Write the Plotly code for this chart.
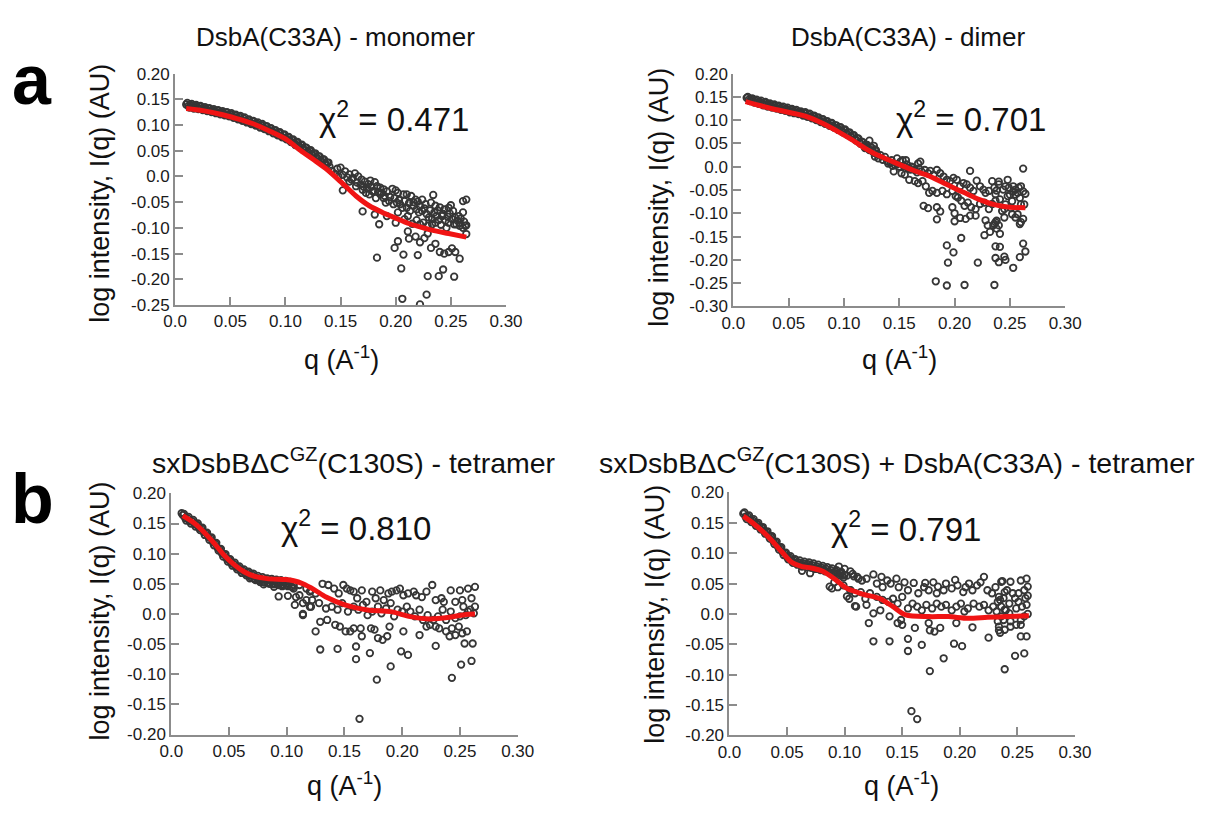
import plotly.graph_objects as go

# page body keeps its default 8px margin, so the figure is drawn 16px smaller than the window
PAGE_W, PAGE_H = 1219, 814
BODY = 8
W, H = PAGE_W - 2 * BODY, PAGE_H - 2 * BODY

# ---------------- DATA (q and log I in units of 1e-3) ----------------
# Panel a, left: DsbA(C33A) - monomer
mono_fit_q = [0.010, 0.025, 0.041, 0.055, 0.070, 0.085, 0.100, 0.114, 0.126, 0.138, 0.150, 0.164, 0.176,
              0.188, 0.200, 0.211, 0.222, 0.232, 0.248, 0.264]
mono_fit_I = [0.132, 0.128, 0.121, 0.113, 0.103, 0.089, 0.073, 0.050, 0.032, 0.013, -0.010, -0.038, -0.057,
              -0.070, -0.081, -0.091, -0.098, -0.104, -0.111, -0.118]
mono_band_q = [10, 12, 14, 16, 18, 20, 22, 24, 26, 28, 30, 32, 34, 36, 38, 40, 42, 44, 46, 48, 50, 52, 54, 56,
               58, 60, 62, 64, 66, 68, 70, 72, 74, 76, 78, 80, 82, 84, 86, 88, 90, 92, 94, 96, 98, 100, 102,
               104, 106, 108, 110, 112, 114, 116, 118, 120, 122, 124, 126, 128, 130, 132, 134, 136, 138, 140]
mono_band_I = [140, 137, 139, 135, 137, 134, 136, 132, 133, 130, 132, 128, 129, 126, 128, 124, 125, 121, 124,
               119, 121, 117, 119, 114, 116, 111, 113, 108, 110, 105, 107, 102, 103, 99, 100, 95, 97, 91, 93,
               88, 89, 83, 85, 79, 81, 75, 76, 70, 71, 65, 66, 60, 61, 55, 56, 49, 50, 44, 44, 38, 39, 32, 33,
               26, 27, 19]
mono_band2_q = [11, 13, 15, 17, 19, 21, 23, 25, 27, 29, 31, 33, 35, 37, 39, 41, 43, 45, 47, 49, 51, 53, 55, 57,
                59, 61, 63, 65, 67, 69, 71, 73, 75, 77, 79, 81, 83, 85, 87, 89, 91, 93, 95, 97, 99, 101, 103,
                105, 107, 109, 111, 113, 115, 117, 119, 121, 123, 125, 127, 129, 131, 133, 135, 137, 139]
mono_band2_I = [143, 134, 141, 132, 139, 131, 137, 129, 135, 127, 133, 125, 131, 123, 129, 121, 127, 119, 125,
                117, 123, 114, 120, 111, 118, 108, 115, 105, 111, 102, 108, 99, 105, 95, 102, 92, 98, 88, 94,
                84, 90, 80, 86, 76, 82, 72, 77, 67, 72, 61, 67, 56, 62, 51, 56, 46, 51, 40, 45, 34, 39, 28, 33,
                22, 27]
mono_sc_q = [142, 147, 150, 154, 158, 163, 161, 166, 169, 172, 175, 177, 181, 183, 186, 189, 192, 197, 200, 202,
             207, 210, 214, 218, 220, 224, 227, 232, 234, 236, 240, 244, 248, 250, 252, 257, 261, 264, 261, 263,
             264, 258, 255,
             158, 164, 170, 173, 176, 179, 182, 186, 189, 191, 194, 198, 201, 204, 206, 210, 213, 216, 219, 221,
             224, 228, 230, 233, 237, 239, 242, 245, 248, 251, 253, 258, 261,
             152, 170, 183, 185, 181, 192, 200, 202, 208, 211, 215, 219, 222, 225, 229, 233, 236, 241, 246,
             202, 199, 207, 211, 212, 218, 220, 222, 226, 229, 232, 236, 240, 243, 244, 248, 251, 254, 258, 239,
             229, 253, 205, 206, 228, 222,
             145, 148, 152, 156, 160, 165, 168, 171, 174, 178, 180, 184, 187, 190, 195, 199, 203, 208, 212, 216,
             222, 226, 231, 235, 238, 243, 247, 249, 254, 256, 259, 262, 264]
mono_sc_I = [11, 15, 17, 10, 4, 6, -3, 0, -6, -10, -15, -8, -11, -19, -22, -25, -29, -24, -27, -32,
             -35, -35, -38, -45, -49, -45, -54, -51, -36, -57, -60, -64, -61, -56, -67, -77, -48, -45, -70, -96,
             -112, -90, -93,
             -10, -19, -26, -32, -35, -29, -42, -35, -42, -51, -48, -54, -51, -54, -61, -61, -67, -57, -64, -70,
             -67, -73, -80, -83, -77, -85, -77, -86, -90, -83, -93, -96, -100,
             -27, -68, -158, -93, -74, -77, -90, -70, -83, -77, -92, -85, -93, -90, -96, -93, -90, -94, -100,
             -126, -139, -152, -107, -121, -117, -153, -128, -120, -111, -139, -131, -147, -181, -150, -147, -140,
             -147, -160, -194, -194, -195, -179, -238, -230, -249,
             5, 0, 3, -2, -6, -12, -16, -20, -23, -20, -28, -30, -32, -38, -40, -42, -46, -48, -52, -50,
             -58, -62, -66, -70, -66, -73, -78, -72, -80, -86, -82, -88, -95]

# Panel a, right: DsbA(C33A) - dimer
dim_fit_q = [0.011, 0.036, 0.065, 0.080, 0.095, 0.107, 0.118, 0.126, 0.138, 0.150, 0.162, 0.175, 0.187,
             0.199, 0.211, 0.222, 0.237, 0.250, 0.264]
dim_fit_I = [0.140, 0.124, 0.1086, 0.094, 0.075, 0.058, 0.041, 0.030, 0.017, 0.005, -0.007, -0.018, -0.031,
             -0.045, -0.058, -0.070, -0.082, -0.087, -0.088]
dim_band_q = [12, 14, 16, 18, 20, 22, 24, 26, 28, 30, 32, 34, 36, 38, 40, 42, 44, 46, 48, 50, 52, 54, 56, 58,
              60, 62, 64, 66, 68, 70, 72, 74, 76, 78, 80, 82, 84, 86, 88, 90, 92, 94, 96, 98, 100, 102, 104,
              106, 108, 110, 112, 114, 116, 118, 120, 122, 124, 126, 128, 130]
dim_band_I = [148, 144, 145, 141, 142, 138, 139, 135, 137, 133, 134, 130, 132, 128, 129, 125, 127, 123, 124,
              121, 122, 118, 120, 116, 117, 113, 115, 110, 112, 107, 109, 104, 105, 99, 101, 96, 97, 91, 93,
              87, 89, 83, 84, 78, 79, 72, 73, 66, 67, 60, 61, 53, 54, 45, 47, 39, 42, 33, 37, 27]
dim_band2_q = [13, 15, 17, 19, 21, 23, 25, 27, 29, 31, 33, 35, 37, 39, 41, 43, 45, 47, 49, 51, 53, 55, 57, 59,
               61, 63, 65, 67, 69, 71, 73, 75, 77, 79, 81, 83, 85, 87, 89, 91, 93, 95, 97, 99, 101, 103, 105,
               107, 109, 111, 113, 115, 117, 119, 121, 123, 125, 127, 129]
dim_band2_I = [150, 141, 147, 138, 144, 135, 142, 132, 139, 129, 136, 127, 134, 125, 131, 122, 129, 120, 127,
               117, 124, 115, 122, 113, 119, 110, 117, 107, 114, 104, 110, 100, 106, 96, 102, 92, 98, 88, 94,
               84, 89, 79, 85, 74, 80, 69, 74, 63, 68, 56, 61, 49, 53, 42, 47, 36, 41, 30, 35]
dim_sc_q = [131, 137, 140, 143, 146, 148, 151, 153, 156, 158, 161, 164, 167, 169, 170, 173, 176, 178, 181, 184,
            187, 190, 193, 196, 199, 202, 205, 208, 211, 214, 214, 217, 220, 223, 226, 228, 231, 234, 236, 237,
            145, 152, 155, 159, 164, 167, 171, 174, 177, 180, 184, 189, 193, 198, 201, 203, 206, 209, 212, 215,
            219, 223, 227, 231, 234, 237,
            172, 176, 184, 187, 184, 198, 200, 200, 205, 210, 214, 219, 228, 230, 232, 227, 235, 237, 193, 199,
            206, 194, 183, 193, 209, 236, 221, 237, 237,
            238, 240, 241, 243, 245, 246, 248, 250, 252, 253, 255, 257, 259, 260, 262, 264, 246, 251, 255, 259,
            260, 262, 238, 236, 240, 241, 238, 245, 252, 257, 262, 264, 259, 253, 246, 245, 241, 240,
            240, 244, 248, 249, 255, 258, 262, 263, 260, 253, 123, 127, 119, 128,
            133, 135, 139, 142, 144, 148, 150, 154, 157, 160, 163, 166, 168]
dim_sc_I = [18, 21, 7, 14, 4, 18, 11, 14, 14, -3, 0, -7, 7, 11, -10, -7, -14, -9, -17, -7,
            -14, -21, -28, -31, -24, -28, -42, -35, -38, -9, -45, -52, -30, -42, -49, -56, -52, -31, -45, -59,
            -10, -14, -17, -28, -31, -35, -31, -42, -56, -52, -56, -52, -59, -52, -63, -66, -73, -84, -77, -87,
            -91, -80, -77, -91, -80, -73,
            -84, -89, -87, -96, -113, -87, -100, -117, -110, -112, -105, -105, -115, -126, -140, -147, -126,
            -119, -169, -184, -153, -206, -246, -255, -254, -254, -206, -196, -171,
            -51, -32, -70, -95, -91, -42, -28, -60, -74, -53, -49, -56, -67, -42, -4, -58, -81, -89, -109, -123,
            -119, -112, -116, -123, -126, -144, -133, -109, -102, -102, -165, -182, -194, -217, -200, -193,
            -172, -205,
            -38, -49, -63, -45, -60, -45, -53, -81, -81, -42, 56, 45, 40, 22,
            25, 15, 12, 8, 2, 5, 0, 2, 5, -6, -2, -12, -4]

# Panel b, left: sxDsbBdC(C130S) - tetramer
tet_fit_q = [0.010, 0.021, 0.035, 0.046, 0.055, 0.063, 0.072, 0.083, 0.099, 0.106, 0.114, 0.124, 0.134,
             0.151, 0.170, 0.190, 0.207, 0.224, 0.241, 0.255, 0.263]
tet_fit_I = [0.163, 0.149, 0.122, 0.097, 0.081, 0.070, 0.0625, 0.0586, 0.057, 0.055, 0.050, 0.040, 0.028,
             0.0147, 0.0065, 0.0038, -0.0044, -0.0083, -0.0055, -0.001, 0.000]
tet_band_q = [9, 10, 12, 14, 16, 18, 20, 22, 24, 26, 28, 30, 32, 34, 36, 38, 40, 42, 44, 46, 48, 50, 52, 54,
              56, 58, 60, 62, 64, 66, 68, 70, 72, 74, 76, 78, 80, 82, 84, 86, 88, 90, 92, 94, 96, 98, 100,
              102, 104, 106]
tet_band_I = [167, 164, 159, 159, 154, 154, 149, 148, 143, 142, 136, 134, 128, 126, 119, 117, 110, 107, 100,
              98, 92, 90, 84, 83, 78, 77, 72, 72, 67, 68, 64, 65, 58, 60, 56, 58, 53, 56, 52, 55, 51, 54, 50,
              53, 49, 52, 48, 50, 46, 48]
tet_band2_q = [11, 13, 15, 17, 19, 21, 23, 25, 27, 29, 31, 33, 35, 37, 39, 41, 43, 45, 47, 49, 51, 53, 55, 57,
               59, 61, 63, 65, 67, 69, 71, 73, 75, 77, 79, 81, 83, 85, 87, 89, 91, 93, 95, 97, 99, 101, 103, 105]
tet_band2_I = [166, 155, 161, 150, 156, 145, 150, 139, 143, 131, 135, 123, 127, 114, 118, 105, 108, 95, 99, 87,
               91, 80, 85, 74, 79, 68, 74, 64, 70, 61, 67, 56, 63, 53, 61, 52, 59, 50, 58, 49, 57, 48, 56, 47,
               55, 46, 53, 44]
tet_sc_q = [68, 75, 80, 84, 89, 93, 96, 101, 106, 107, 111, 114, 117, 120, 121,
            111, 117, 121, 125, 131, 136, 141, 145, 149, 152, 155, 158, 161, 165, 169, 174, 177, 181, 184, 188,
            191, 195, 198, 201, 205, 210, 212, 217, 221, 226, 229, 234, 236, 242, 246, 250, 252, 257, 260, 263,
            263, 262, 257, 253,
            108, 114, 120, 122, 128, 134, 139, 144, 148, 153, 158, 162, 166, 170, 174, 179, 182, 186, 190, 193,
            196, 200, 204, 207, 211, 215, 218, 222, 227, 231, 235, 238, 242, 246, 250, 255, 259,
            114, 125, 129, 135, 142, 146, 151, 155, 158, 164, 165, 173, 176, 179, 183, 187, 189, 201, 215, 221,
            224, 229, 232, 238, 241, 243, 246, 249, 252, 256,
            129, 144, 160, 160, 172, 190, 178, 199, 205, 229, 243, 251, 260, 261, 254, 163]
tet_sc_I = [59, 56, 49, 52, 45, 29, 46, 30, 42, 15, 31, 0, 23, 37, 12,
            48, 42, 39, 34, 50, 48, 42, 34, 48, 42, 39, 37, 26, 39, 20, 37, 26, 39, 23, 34,
            37, 39, 42, 31, 34, 37, 31, 28, 37, 48, 23, 26, 20, 39, 20, 39, 23, 42, 26, 45,
            12, 1, 4, 12,
            28, 18, 12, 23, 18, 9, 12, 7, 18, 4, 12, 7, 15, -2, 4, 12, 1, 9, 18, -4,
            7, 4, 12, 4, -4, 7, -10, -2, -10, -4, 7, -10, 4, -7, -4, -2, 7,
            -2, -29, -13, -10, -18, -21, -29, -29, -24, -24, -37, -24, -26, -40, -43, -37, -21, -29, -35, -21,
            -18, -21, -24, -29, -37, -24, -35, -21, -32, -29,
            -59, -58, -75, -54, -65, -87, -109, -62, -68, -53, -106, -84, -78, -49, -49, -174]

# Panel b, right: sxDsbBdC(C130S) + DsbA(C33A) - tetramer
cpx_fit_q = [0.012, 0.020, 0.0345, 0.046, 0.054, 0.063, 0.071, 0.080, 0.091, 0.102, 0.116, 0.1305, 0.142,
             0.153, 0.173, 0.190, 0.207, 0.224, 0.241, 0.260]
cpx_fit_I = [0.161, 0.150, 0.1255, 0.101, 0.085, 0.078, 0.0757, 0.071, 0.058, 0.042, 0.0324, 0.0254, 0.0119,
             -0.0017, -0.0044, -0.0044, -0.0071, -0.0055, -0.0044, -0.003]
cpx_band_q = [12, 14, 16, 18, 20, 22, 24, 26, 28, 30, 32, 34, 36, 38, 40, 42, 44, 46, 48, 50, 52, 54, 56, 58,
              60, 62, 64, 66, 68, 70, 72, 74, 76, 78, 80, 82, 84, 86, 88, 90, 92, 94, 96, 98, 100]
cpx_band_I = [165, 160, 160, 155, 154, 149, 148, 143, 142, 136, 135, 129, 127, 120, 118, 111, 109, 102, 100,
              94, 93, 88, 88, 84, 85, 82, 83, 80, 82, 79, 80, 76, 78, 75, 76, 72, 74, 70, 72, 68, 70, 66, 67,
              63, 64]
cpx_band2_q = [13, 15, 17, 19, 21, 23, 25, 27, 29, 31, 33, 35, 37, 39, 41, 43, 45, 47, 49, 51, 53, 55, 57, 59,
               61, 63, 65, 67, 69, 71, 73, 75, 77, 79, 81, 83, 85, 87, 89, 91, 93, 95, 97, 99]
cpx_band2_I = [167, 156, 162, 151, 156, 145, 150, 139, 143, 132, 136, 124, 128, 115, 119, 106, 110, 97, 101, 90,
               95, 84, 90, 81, 88, 78, 86, 77, 85, 76, 83, 74, 81, 72, 79, 70, 77, 68, 75, 66, 72, 63, 69, 60]
cpx_sc_q = [63, 70, 87, 102, 109, 105, 91, 95, 105, 100, 108, 112,
            91, 97, 102, 107, 111, 115, 119, 125, 128, 132, 133, 137, 140, 145, 147, 152, 155, 160, 164, 169,
            170, 173, 177, 180, 181, 186, 188, 193, 196, 198, 203, 205, 208, 211, 215, 218, 221, 224, 228, 231,
            234, 237, 239, 240, 238, 235,
            94, 99, 105, 109, 114, 118, 122, 128, 133, 138, 142, 146, 150, 155, 159, 163, 167, 171, 176, 180,
            184, 188, 193, 197, 201, 204, 207, 212, 217, 221, 225, 229, 232, 236,
            89, 104, 110, 119, 125, 131, 139, 146, 149, 150, 161, 173, 174, 178, 183, 197, 211, 225, 234, 121,
            125, 139, 155, 155, 167, 186, 195, 202, 174, 239, 158, 163,
            236, 244, 253, 258, 256, 251, 248, 243, 239, 236, 233, 234, 239, 244, 249, 253, 256, 258, 254, 249,
            243, 238, 233, 241, 246, 251, 235, 244, 253, 258, 256, 248, 253, 257, 259, 259, 259]
cpx_sc_I = [71, 67, 45, 29, 13, 39, 52, 78, 70, 74, 62, 58,
            66, 69, 63, 66, 61, 55, 58, 65, 50, 61, 44, 55, 50, 58, 44, 52, 39, 51, 34, 44,
            51, 39, 52, 34, 45, 39, 50, 42, 56, 47, 36, 44, 50, 39, 47, 52, 61, 39, 34, 44,
            28, 54, 36, 6, -10, 23,
            44, 47, 39, 34, 36, 25, 34, 28, 23, 20, 25, 17, 28, 9, 17, 12, 6, 15, 9, 17,
            12, 15, 6, 12, 17, 4, 9, 17, 12, 15, 6, 12, 4, 12,
            42, 25, 12, 15, 1, 6, -4, -15, -10, -18, -23, -15, -27, -29, -23, -15, -22, -39, -27, -15,
            -45, -45, -41, -61, -51, -73, -49, -53, -94, -91, -160, -173,
            53, 53, 55, 58, 39, 34, 26, 17, 7, -4, -12, -21, -26, -12, -18, -10, -4, 15, 12, 9,
            1, 26, 20, 39, 34, 20, -31, -21, -18, -37, -65, -69, -37, 26, 30, 45, 0]

titles = ["DsbA(C33A) - monomer", "DsbA(C33A) - dimer",
          "sxDsbBΔC<sup>GZ</sup>(C130S) - tetramer",
          "sxDsbBΔC<sup>GZ</sup>(C130S) + DsbA(C33A) - tetramer"]
title_sizes = [26, 26, 28.5, 28.5]
chi_labels = ["0.471", "0.701", "0.810", "0.791"]
x_ticks = [0.0, 0.05, 0.10, 0.15, 0.20, 0.25, 0.30]
x_ticktext = ["0.0", "0.05", "0.10", "0.15", "0.20", "0.25", "0.30"]
y_ticks_a = [0.20, 0.15, 0.10, 0.05, 0.0, -0.05, -0.10, -0.15, -0.20, -0.25]
y_ticks_b = [0.20, 0.15, 0.10, 0.05, 0.0, -0.05, -0.10, -0.15, -0.20, -0.25, -0.30]
y_ticks_c = [0.20, 0.15, 0.10, 0.05, 0.0, -0.05, -0.10, -0.15, -0.20]


def ylab(v):
    return "0.0" if abs(v) < 1e-9 else f"{v:.2f}"


# ---------------- LAYOUT (page-pixel geometry of each panel) ----------------
FONT = "Liberation Sans, Arial, Helvetica, sans-serif"
AX = "#8c8c8c"
PT = "#363636"
RED = "#f01414"


def px(x):
    return (x - BODY) / W


def py(y):
    return 1 - (y - BODY) / H


panels = [
    dict(data=(mono_band_q + mono_band2_q, mono_band_I + mono_band2_I, mono_sc_q, mono_sc_I,
               mono_fit_q, mono_fit_I),
         xpx=(167, 506), ypx=(66, 303), yr=(-0.25, 0.20), yt=y_ticks_a,
         title=(331, 29), ytitle=(90, 189), xtitle=(337, 357), chi=(391, 110)),
    dict(data=(dim_band_q + dim_band2_q, dim_band_I + dim_band2_I, dim_sc_q, dim_sc_I, dim_fit_q, dim_fit_I),
         xpx=(739, 1079), ypx=(66, 304.5), yr=(-0.30, 0.20), yt=y_ticks_b,
         title=(918, 29), ytitle=(662, 193), xtitle=(909, 357), chi=(983, 110)),
    dict(data=(tet_band_q + tet_band2_q, tet_band_I + tet_band2_I, tet_sc_q, tet_sc_I, tet_fit_q, tet_fit_I),
         xpx=(163, 518), ypx=(496, 743), yr=(-0.20, 0.20), yt=y_ticks_c,
         title=(350, 463), ytitle=(89, 617), xtitle=(341, 794), chi=(352, 529)),
    dict(data=(cpx_band_q + cpx_band2_q, cpx_band_I + cpx_band2_I, cpx_sc_q, cpx_sc_I, cpx_fit_q, cpx_fit_I),
         xpx=(735, 1089), ypx=(495, 744), yr=(-0.20, 0.20), yt=y_ticks_c,
         title=(907, 463), ytitle=(659, 620), xtitle=(911, 794), chi=(916, 530)),
]

fig = go.Figure()
layout = dict(width=W, height=H, margin=dict(l=0, r=0, t=0, b=0),
              paper_bgcolor="white", plot_bgcolor="white", showlegend=False,
              font=dict(family=FONT, color="#111111"))
annotations = []

for i, p in enumerate(panels):
    n = "" if i == 0 else str(i + 1)
    bq, bI, sq, sI, fq, fI = p["data"]
    assert len(bq) == len(bI) and len(sq) == len(sI) and len(fq) == len(fI)
    q_all = [v / 1000 for v in list(bq) + list(sq)]
    I_all = [v / 1000 for v in list(bI) + list(sI)]
    fig.add_trace(go.Scatter(x=q_all, y=I_all, mode="markers", xaxis="x" + n, yaxis="y" + n,
                             marker=dict(symbol="circle-open", size=6.5, color=PT, line=dict(width=1.8)),
                             hoverinfo="skip"))
    fig.add_trace(go.Scatter(x=fq, y=fI, mode="lines", xaxis="x" + n, yaxis="y" + n,
                             line=dict(color=RED, width=5, shape="spline", smoothing=0.8),
                             hoverinfo="skip"))
    common = dict(showgrid=False, zeroline=False, showline=True, linecolor=AX, linewidth=2,
                  ticks="inside", ticklen=8, tickwidth=2, tickcolor=AX,
                  tickfont=dict(family=FONT, size=17, color="#1a1a1a"))
    layout["xaxis" + n] = dict(domain=[px(p["xpx"][0]), px(p["xpx"][1])], anchor="y" + n,
                               range=[0, 0.30], tickvals=x_ticks, ticktext=x_ticktext, **common)
    layout["yaxis" + n] = dict(domain=[py(p["ypx"][1]), py(p["ypx"][0])], anchor="x" + n,
                               range=list(p["yr"]), tickvals=p["yt"],
                               ticktext=[ylab(v) for v in p["yt"]], **common)
    annotations.append(dict(text=titles[i], x=px(p["title"][0]), y=py(p["title"][1]), xref="paper",
                            yref="paper", showarrow=False, xanchor="center", yanchor="middle",
                            font=dict(family=FONT, size=title_sizes[i], color="#111111")))
    annotations.append(dict(text="log intensity, I(q) (AU)", x=px(p["ytitle"][0]), y=py(p["ytitle"][1]),
                            xref="paper", yref="paper", showarrow=False, textangle=-90,
                            xanchor="center", yanchor="middle",
                            font=dict(family=FONT, size=27, color="#111111")))
    annotations.append(dict(text="q (A<sup>-1</sup>)", x=px(p["xtitle"][0]), y=py(p["xtitle"][1]),
                            xref="paper", yref="paper", showarrow=False, xanchor="center",
                            yanchor="middle", font=dict(family=FONT, size=27, color="#111111")))
    annotations.append(dict(text="χ<sup>2</sup> = " + chi_labels[i], x=px(p["chi"][0]), y=py(p["chi"][1]),
                            xref="paper", yref="paper", showarrow=False, xanchor="center",
                            yanchor="middle", font=dict(family=FONT, size=33, color="#111111")))

annotations.append(dict(text="<b>a</b>", x=px(20), y=py(73), xref="paper", yref="paper", showarrow=False,
                        xanchor="center", yanchor="middle", font=dict(family=FONT, size=70, color="#000000")))
annotations.append(dict(text="<b>b</b>", x=px(21), y=py(502), xref="paper", yref="paper", showarrow=False,
                        xanchor="center", yanchor="middle", font=dict(family=FONT, size=70, color="#000000")))
layout["annotations"] = annotations
fig.update_layout(**layout)
fig.write_html("out.html")
